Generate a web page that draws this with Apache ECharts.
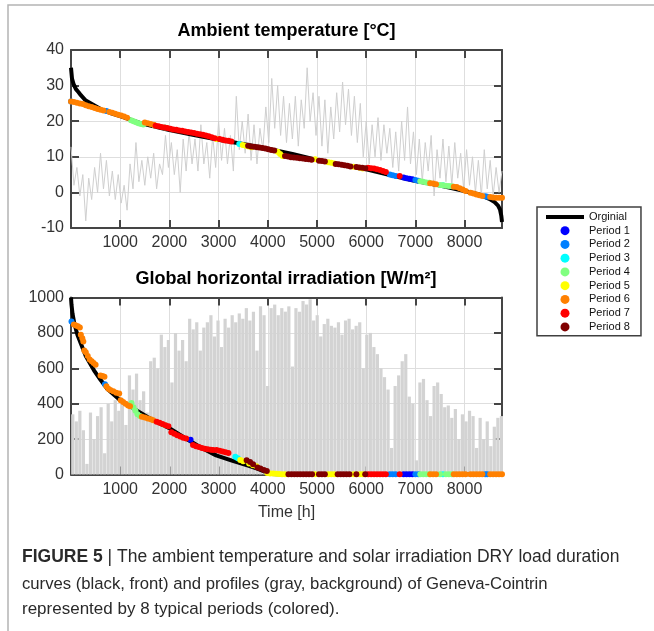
<!DOCTYPE html>
<html><head><meta charset="utf-8">
<script src="https://cdn.jsdelivr.net/npm/echarts@6/dist/echarts.min.js"></script>
<style>html,body{margin:0;padding:0;background:#fff}#c{width:654px;height:631px}</style>
</head><body><div id="c"></div>
<script>
// ---------- data ----------
const hoursMax = 8760;
const titleTop = 'Ambient temperature [°C]';
const titleBottom = 'Global horizontal irradiation [W/m²]';
const xName = 'Time [h]';
const captionLines = [
  '{b|FIGURE 5} | The ambient temperature and solar irradiation DRY load duration',
  'curves (black, front) and profiles (gray, background) of Geneva-Cointrin',
  'represented by 8 typical periods (colored).'
];

// gray hourly temperature profile (sampled every 60 h)
const tempProfileStep = 60;
const tempProfile = [12.8,2,7,-1,5,-8,4,-2,7,0,
 11,1,9,-1,6,-2,5,-3,2,-5,
 8,1,14,3,9,2,10,4,11,1,
 8,5,16,7,14,5,12,0,15,6,
 17,8,15,6,19,8,14,4,16,7,
 20,9,18,8,16,6,27,12,20,11,
 22,9,19,8,18,12,24,14,32,18,
 30,16,27,14,25,15,27,13,26,18,
 35,20,28,16,27,13,26,11,24,15,
 28,17,31,19,29,16,27,14,25,10,
 20,8,19,10,21,9,19,11,18,7,
 17,6,20,9,24,8,17,5,15,3,
 14,6,16,-1,12,4,15,3,13,2,
 14,4,11,1,12,2,10,0,9,-1,
 12,1,9,-1,7,0,6];

// gray irradiation profile (daily peaks, every 72 h starting at 36 h)
const irrProfileStart = 36, irrProfileStep = 72;
const irrProfile = [340,300,360,250,60,350,200,330,380,120,
 400,300,420,360,430,280,560,480,570,420,
 470,350,640,660,600,790,720,760,520,800,
 700,760,640,880,820,860,700,830,860,900,
 780,870,720,880,830,900,860,910,880,940,
 870,920,700,950,900,500,940,960,900,940,
 920,950,610,940,920,980,960,990,870,900,
 780,850,880,840,830,860,790,870,880,820,
 840,860,600,790,800,720,680,600,550,480,
 150,500,560,640,680,440,400,80,520,540,
 420,330,500,520,455,380,390,320,370,200,
 340,300,360,330,150,320,200,300,160,270,
 320,330];

// black load duration curves
const tempCurveH = [0,20,50,100,150,200,300,450,600,800,1000,1400,2000,2500,3000,3500,4000,4500,5000,5500,6000,6500,7000,7500,8000,8300,8500,8600,8680,8720,8745,8760];
const tempCurveT = [35,32,30.5,29,28.2,27.3,25.8,24.6,23.4,22.3,21.4,19.5,17.5,16.1,14.8,13.6,12.3,10.8,9.1,7.8,6.5,4.8,3.2,1.9,0.4,-0.6,-1.8,-2.6,-3.7,-4.8,-6.5,-8.3];
const irrCurveH = [0,10,30,70,130,200,300,470,600,740,1000,1300,1630,2000,2300,2640,2950,3270,3600,3800,3950,4080,4200,8760];
const irrCurveV = [1000,960,910,850,790,740,670,587,535,483,420,368,313,262,209,153,108,78,50,32,15,3,0,0];

// typical periods
const periodNames = ['Period 1','Period 2','Period 3','Period 4','Period 5','Period 6','Period 7','Period 8'];
const periodColors = ['#0000ff','#0080ff','#00ffff','#80ff80','#ffff00','#ff8000','#ff0000','#800000'];

const p1Temp = [[6760,4.2],[6820,4.0],[6880,3.8],[6940,3.7]];
const p1Irr = [[2430,196],[6760,1],[6820,1],[6880,1],[6940,1]];
const p2Temp = [[0,25.5],[720,22.9],[6480,5.0],[6540,4.8],[6600,4.6],[7000,3.5],[7060,3.3],[8420,-1.1],[8460,-1.2]];
const p2Irr = [[10,865],[690,510],[6480,1],[6540,1],[6600,1],[7000,1],[7060,1],[8420,1],[8460,1]];
const p3Temp = [[3420,13.6],[7560,2.0]];
const p3Irr = [[3340,100],[3390,92],[7560,1]];
const p4Temp = [[1220,20.3],[1270,20],[1320,19.7],[1370,19.4],[1420,19.2],[1470,19.1],[1700,18.8],[1910,18.2],[7100,3.1],[7160,3],[7220,2.8],[7280,2.7],[7500,2.1],[7560,2.0],[7620,1.9],[7680,1.8],[7740,1.7]];
const p4Irr = [[1230,404],[1270,380],[1310,360],[1350,340],[1400,330],[1900,280],[7100,1],[7160,1],[7220,1],[7280,1],[7500,1],[7620,1],[7680,1],[7740,1]];
const p5Temp = [[2960,15],[3490,13.3],[3550,13.1],[3610,12.9],[3670,12.7],[4200,11.4],[4250,10.8],[4300,10.2],[4960,9.3],[5230,8.5],[5290,8.3],[5350,8.1],[5740,7.2],[5870,6.9],[5930,6.7]];
const p5Irr = [[3440,82],[3500,75],[3620,62],[3700,52],[3770,46],[3990,8],[4050,6],[4110,5],[4170,4],[4230,3],[4290,2],[4350,1],[4960,1],[5230,1],[5290,1],[5350,1],[5740,1],[5870,1],[5930,1]];
const p6Temp = [[0,25.5],[60,25.4],[120,25.2],[180,25],[240,24.8],[300,24.5],[360,24.2],[420,24],[480,23.7],[540,23.4],[600,23.2],[660,23],[780,22.6],[840,22.4],[900,22.1],[960,21.8],[1020,21.6],[1080,21.3],[1140,21],[1500,19.6],[1560,19.4],[1620,19.2],[1680,19],[7300,2.6],[7360,2.5],[7420,2.3],[7780,1.6],[7840,1.5],[7900,1.2],[7960,0.8],[8020,0.4],[8120,-0.1],[8180,-0.3],[8240,-0.6],[8300,-0.8],[8360,-1],[8520,-1.3],[8580,-1.4],[8640,-1.5],[8700,-1.5],[8760,-1.5]];
const p6Irr = [[60,848],[100,842],[140,838],[180,830],[200,790],[230,770],[250,752],[270,700],[300,690],[340,670],[380,650],[420,640],[460,630],[500,620],[600,560],[640,556],[680,552],[720,498],[760,485],[800,477],[860,470],[920,462],[980,458],[1010,420],[1060,410],[1110,400],[1160,390],[1200,385],[1440,326],[1500,322],[1560,316],[1620,312],[1670,307],[7300,1],[7360,1],[7420,1],[7780,1],[7840,1],[7900,1],[7960,1],[8020,1],[8120,1],[8180,1],[8240,1],[8300,1],[8360,1],[8520,1],[8580,1],[8640,1],[8700,1],[8760,1]];
const p7Temp = [[1720,18.7],[1780,18.6],[1840,18.4],[1900,18.2],[1960,18.1],[2020,17.9],[2080,17.7],[2140,17.6],[2200,17.4],[2260,17.3],[2320,17.1],[2380,17],[2440,16.8],[2500,16.7],[2560,16.5],[2620,16.3],[2680,16.2],[2740,16],[2800,15.8],[2860,15.5],[2920,15.2],[3020,15],[3080,14.8],[3140,14.6],[3200,14.5],[3260,14.3],[6040,6.9],[6100,6.8],[6160,6.7],[6220,6.5],[6280,6.3],[6340,6.0],[6400,5.7],[6680,4.6]];
const p7Irr = [[1740,298],[1800,292],[1860,285],[1920,278],[1980,272],[2040,238],[2100,230],[2160,222],[2220,214],[2280,208],[2340,204],[2480,166],[2540,160],[2600,155],[2660,150],[2720,146],[2780,142],[2840,140],[2890,138],[2960,138],[3020,134],[3080,130],[3140,126],[3200,122],[6040,1],[6100,1],[6160,1],[6220,1],[6280,1],[6340,1],[6400,1],[6680,1]];
const p8Temp = [[3600,13.1],[3660,12.9],[3720,12.8],[3780,12.7],[3830,12.6],[3890,12.5],[3950,12.3],[4010,12.1],[4070,11.9],[4130,11.8],[4350,10.2],[4410,10.1],[4470,9.9],[4530,9.8],[4590,9.7],[4650,9.6],[4710,9.5],[4770,9.4],[4830,9.3],[4890,9.2],[5040,8.9],[5100,8.8],[5160,8.7],[5380,8.0],[5440,7.9],[5500,7.8],[5560,7.6],[5620,7.5],[5680,7.3],[5800,7.1],[5860,7.0],[5920,6.9],[5980,6.8]];
const p8Irr = [[3570,80],[3640,70],[3700,58],[3790,40],[3850,34],[3920,26],[3980,20],[4420,1],[4480,1],[4540,1],[4600,1],[4660,1],[4720,1],[4780,1],[4840,1],[4900,1],[5040,1],[5100,1],[5160,1],[5420,1],[5480,1],[5540,1],[5600,1],[5660,1],[5800,1],[5980,1]];

const periodTemp = [p1Temp,p2Temp,p3Temp,p4Temp,p5Temp,p6Temp,p7Temp,p8Temp];
const periodIrr = [p1Irr,p2Irr,p3Irr,p4Irr,p5Irr,p6Irr,p7Irr,p8Irr];

// ---------- chart ----------
const chart = echarts.init(document.getElementById('c'), null, {renderer:'canvas'});
const FONT = 'Liberation Sans, Arial, sans-serif';
const BOX = '#454545';
const GRIDC = '#dedede';

function xAx(grid, showLabels, pos, name) {
  return {
    type:'value', gridIndex:grid, position:pos, min:0, max:hoursMax, interval:1000,
    axisLine:{show:true, onZero:false, lineStyle:{color:BOX, width:2}},
    axisTick:{show:true, inside:true, length:8, lineStyle:{color:BOX, width:2}},
    splitLine:{show:showLabels, lineStyle:{color:GRIDC, width:1}},
    axisLabel:{show:showLabels, fontSize:16, color:'#333', fontFamily:FONT, margin:7,
      showMinLabel:false, showMaxLabel:false,
      formatter:v => (v > 0 && v < hoursMax) ? String(v) : ''},
    name: name || '', nameLocation:'middle', nameGap:30,
    nameTextStyle:{fontSize:16, color:'#333', fontFamily:FONT}
  };
}
function yAx(grid, showLabels, pos, min, max, interval) {
  return {
    type:'value', gridIndex:grid, position:pos, min:min, max:max, interval:interval,
    axisLine:{show:true, onZero:false, lineStyle:{color:BOX, width:2}},
    axisTick:{show:true, inside:true, length:8, lineStyle:{color:BOX, width:2}},
    splitLine:{show:showLabels, lineStyle:{color:GRIDC, width:1}},
    axisLabel:{show:showLabels, fontSize:16, color:'#333', fontFamily:FONT, margin:7,
      formatter:v => String(v)}
  };
}

const series = [];
series.push({
  name:'tempProfile', type:'line', xAxisIndex:0, yAxisIndex:0, silent:true, z:1,
  symbol:'none', lineStyle:{color:'#cfcfcf', width:1},
  data: tempProfile.map((t,i) => [i*tempProfileStep, t])
});
series.push({
  name:'irrProfile', type:'bar', xAxisIndex:2, yAxisIndex:2, silent:true, z:1,
  barWidth:3.2, itemStyle:{color:'#d3d3d3'},
  data: irrProfile.map((v,i) => [irrProfileStart + i*irrProfileStep, v])
});
series.push({
  name:'Orginial', type:'line', xAxisIndex:0, yAxisIndex:0, z:3, symbol:'none',
  itemStyle:{color:'#000'}, lineStyle:{color:'#000', width:4},
  data: tempCurveH.map((h,i) => [h, tempCurveT[i]])
});
series.push({
  name:'Orginial', type:'line', xAxisIndex:2, yAxisIndex:2, z:3, symbol:'none',
  itemStyle:{color:'#000'}, lineStyle:{color:'#000', width:4},
  data: irrCurveH.map((h,i) => [h, irrCurveV[i]])
});
periodNames.forEach((n,k) => {
  series.push({name:n, type:'scatter', xAxisIndex:0, yAxisIndex:0, z:4, symbolSize:6,
    itemStyle:{color:periodColors[k], opacity:1}, data:periodTemp[k]});
  series.push({name:n, type:'scatter', xAxisIndex:2, yAxisIndex:2, z:4, symbolSize:6,
    itemStyle:{color:periodColors[k], opacity:1}, data:periodIrr[k]});
});

const option = {
  animation:false,
  backgroundColor:'#fff',
  grid:[
    {left:71, top:50, width:431, height:178},
    {left:71, top:297.5, width:431, height:177}
  ],
  xAxis:[ xAx(0,true,'bottom'), xAx(0,false,'top'), xAx(1,true,'bottom',xName), xAx(1,false,'top') ],
  yAxis:[ yAx(0,true,'left',-10,40,10), yAx(0,false,'right',-10,40,10),
          yAx(1,true,'left',0,1000,200), yAx(1,false,'right',0,1000,200) ],
  legend:{
    orient:'vertical', left:537, top:207, selectedMode:false,
    backgroundColor:'#fff', borderColor:'#404040', borderWidth:1.5, borderRadius:0,
    padding:[3,11,2,9], itemGap:0, itemWidth:38, itemHeight:9,
    textStyle:{fontSize:11, lineHeight:13.75, color:'#111', fontFamily:FONT},
    data:[{name:'Orginial', icon:'path://M0 0H38V4H0Z', itemStyle:{color:'#000'}}]
      .concat(periodNames.map((n,k) => ({name:n, icon:'circle', itemStyle:{color:periodColors[k]}})))
  },
  graphic:[
    {type:'rect', silent:true, z:-10, shape:{x:8, y:5, width:700, height:700},
      style:{fill:'none', stroke:'#b4b4b4', lineWidth:1.5}},
    {type:'text', silent:true, style:{x:286.5, y:31, text:titleTop, align:'center', verticalAlign:'middle',
      font:'bold 18px ' + FONT, fill:'#000'}},
    {type:'text', silent:true, style:{x:286, y:279.5, text:titleBottom, align:'center', verticalAlign:'middle',
      font:'bold 18px ' + FONT, fill:'#000'}},
    {type:'text', silent:true, style:{x:22, y:557, text:captionLines[0], verticalAlign:'middle',
      font:'17.5px ' + FONT, fill:'#2a2a2a', rich:{b:{fontWeight:'bold', fontSize:17.5, fontFamily:FONT, fill:'#2a2a2a'}}}},
    {type:'text', silent:true, style:{x:22, y:584, text:captionLines[1], verticalAlign:'middle',
      font:'16.7px ' + FONT, fill:'#2a2a2a'}},
    {type:'text', silent:true, style:{x:22, y:609, text:captionLines[2], verticalAlign:'middle',
      font:'17px ' + FONT, fill:'#2a2a2a'}}
  ],
  series:series
};
chart.setOption(option);
</script></body></html>
